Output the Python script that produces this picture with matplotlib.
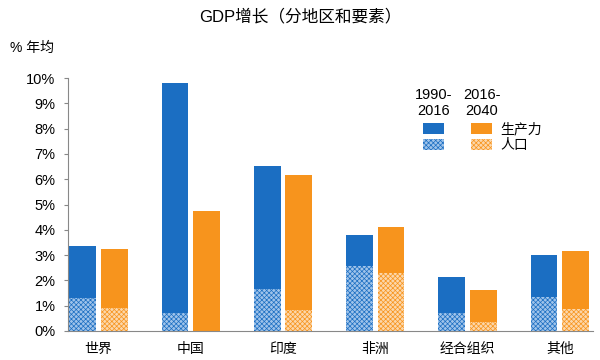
import numpy as np
import matplotlib
matplotlib.use('Agg')
import matplotlib.pyplot as plt
from matplotlib.patches import Rectangle

plt.rcParams['font.family'] = ['Liberation Sans', 'Noto Sans CJK SC']
plt.rcParams['hatch.linewidth'] = 0.5

regions = ['世界', '中国', '印度', '非洲', '经合组织', '其他']
# 1990-2016
past_total = [3.36, 9.82, 6.52, 3.80, 2.13, 3.00]
past_pop = [1.30, 0.70, 1.66, 2.57, 0.71, 1.34]
# 2016-2040
future_total = [3.24, 4.74, 6.17, 4.10, 1.62, 3.16]
future_pop = [0.90, 0.0, 0.83, 2.30, 0.36, 0.87]

blue = '#1b6ec2'
orange = '#f7941d'
blue_lt = '#9fc3ea'
orange_lt = '#fcd7ab'
hatch = 'xxxxxxx'

fig = plt.figure(figsize=(6, 3.6), dpi=100)
ax = fig.add_axes([68/600, 29/360, 525/600, 253/360])

x = np.arange(len(regions))
w = 0.29
off = 0.17
pt = np.array(past_total); pp = np.array(past_pop)
ft = np.array(future_total); fp = np.array(future_pop)

ax.bar(x - off, pp, w, color=blue_lt, edgecolor=blue, hatch=hatch, linewidth=0)
ax.bar(x - off, pt - pp, w, bottom=pp, color=blue, linewidth=0)
ax.bar(x + off, fp, w, color=orange_lt, edgecolor=orange, hatch=hatch, linewidth=0)
ax.bar(x + off, ft - fp, w, bottom=fp, color=orange, linewidth=0)

ax.set_xlim(-0.33, 5.36)
ax.set_ylim(0, 10)
ax.set_yticks(range(0, 11))
ax.set_yticklabels([f'{i}%' for i in range(11)], fontsize=10.5)
ax.set_xticks(x)
ax.set_xticklabels(regions, fontsize=10)
ax.tick_params(axis='x', length=0, pad=8)
ax.tick_params(axis='y', length=3, color='#888888', pad=6)
for s in ['top', 'right']:
    ax.spines[s].set_visible(False)
for s in ['left', 'bottom']:
    ax.spines[s].set_color('#888888')
    ax.spines[s].set_linewidth(0.8)

fig.text(0.5, 0.953, 'GDP增长（分地区和要素）', ha='center', va='center', fontsize=12)
fig.text(10/600, 1 - 48/360, '% 年均', ha='left', va='center', fontsize=10)

# legend
fig.text(434/600, 1 - 103/360, '1990-\n2016', ha='center', va='center', fontsize=10.5, linespacing=1.15)
fig.text(482/600, 1 - 103/360, '2016-\n2040', ha='center', va='center', fontsize=10.5, linespacing=1.15)
for lx, c_dark, c_lt in [(423, blue, blue_lt), (471, orange, orange_lt)]:
    fig.add_artist(Rectangle((lx/600, 1 - 134/360), 21/600, 11/360,
                             transform=fig.transFigure, color=c_dark, linewidth=0))
    fig.add_artist(Rectangle((lx/600, 1 - 150/360), 21/600, 11/360,
                             transform=fig.transFigure, facecolor=c_lt, edgecolor=c_dark,
                             hatch=hatch, linewidth=0))
fig.text(500/600, 1 - 129/360, '生产力', ha='left', va='center', fontsize=10)
fig.text(500/600, 1 - 145/360, '人口', ha='left', va='center', fontsize=10)

fig.savefig('out.png', dpi=100)
